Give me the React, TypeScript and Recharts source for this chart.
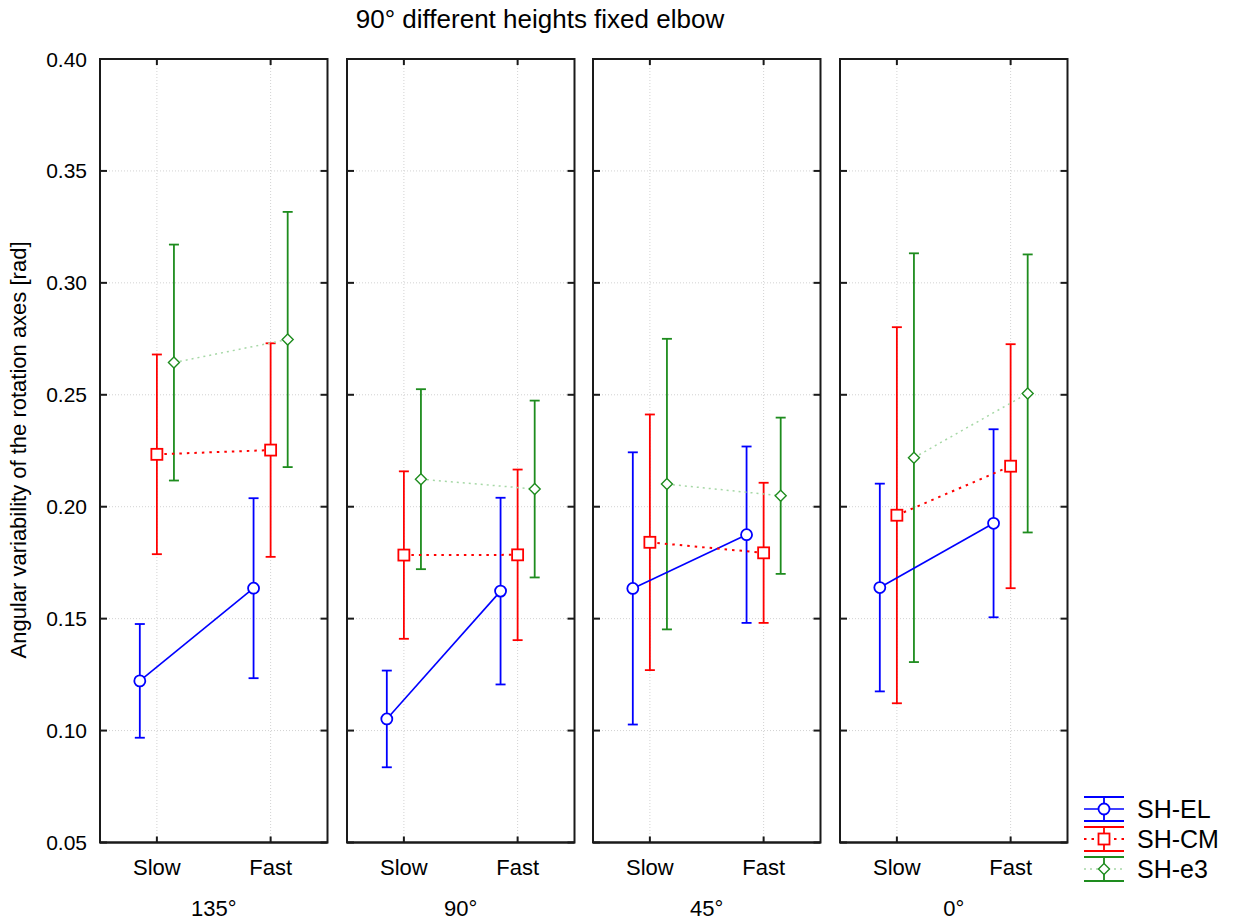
import { ScatterChart, Scatter, XAxis, YAxis, CartesianGrid, ErrorBar, ReferenceArea } from 'recharts';

const speeds = ['Slow', 'Fast'];
const angles = ['135°', '90°', '45°', '0°'];
const yTicks = [0.05, 0.1, 0.15, 0.2, 0.25, 0.3, 0.35, 0.4];

// means and half-widths of the error bars, per angle: [Slow, Fast]
const elMean = [[0.1222, 0.1636], [0.1052, 0.1623], [0.1635, 0.1875], [0.1639, 0.1926]];
const elErr = [[0.0254, 0.0402], [0.0216, 0.0417], [0.0608, 0.0394], [0.0464, 0.042]];
const cmMean = [[0.2234, 0.2253], [0.1784, 0.1785], [0.1841, 0.1794], [0.1962, 0.2181]];
const cmErr = [[0.0446, 0.0477], [0.0374, 0.0381], [0.0571, 0.0313], [0.084, 0.0545]];
const e3Mean = [[0.2644, 0.2747], [0.2123, 0.2079], [0.2101, 0.2049], [0.2219, 0.2506]];
const e3Err = [[0.0527, 0.057], [0.0402, 0.0395], [0.0649, 0.0349], [0.0913, 0.0621]];

type Shape = 'circle' | 'square' | 'diamond';

const series = [
  { name: 'SH-EL', mean: elMean, err: elErr, color: '#0000ff', lineColor: '#0000ff', dash: undefined, lineWidth: 1.6, dodge: -0.3, shape: 'circle' as Shape },
  { name: 'SH-CM', mean: cmMean, err: cmErr, color: '#ff0000', lineColor: '#ff0000', dash: '2.5 5', lineWidth: 2, dodge: 0, shape: 'square' as Shape },
  { name: 'SH-e3', mean: e3Mean, err: e3Err, color: '#1e8c1e', lineColor: '#a6d8a6', dash: '2 4', lineWidth: 1.5, dodge: 0.3, shape: 'diamond' as Shape },
];

const FONT = '"Liberation Sans", Arial, sans-serif';
const PLOT_TOP = 58.5;
const PLOT_H = 783.5;
const PLOT_W = 227.5;
const PANEL_STEP = 246.7;
const FIRST_LEFT = 100;
const AXIS_H = 82;
const PAD_TOP = 20;
const PAD_RIGHT = 12;
const INK = '#1a1a1a';
const TICK = 7;

function Marker({ cx, cy, shape, color }: { cx: number; cy: number; shape: Shape; color: string }) {
  if (shape === 'circle') return <circle cx={cx} cy={cy} r={5.5} fill="#fff" stroke={color} strokeWidth={1.8} />;
  if (shape === 'square')
    return <rect x={cx - 5.5} y={cy - 5.5} width={11} height={11} fill="#fff" stroke={color} strokeWidth={1.8} />;
  return (
    <polygon
      points={`${cx},${cy - 5.5} ${cx + 5.5},${cy} ${cx},${cy + 5.5} ${cx - 5.5},${cy}`}
      fill="#fff"
      stroke={color}
      strokeWidth={1.4}
    />
  );
}

function panelData(s: (typeof series)[number], i: number) {
  return speeds.map((_, j) => ({ x: 1 + 2 * j + s.dodge, y: s.mean[i][j], err: s.err[i][j] }));
}

function Panel({ index }: { index: number }) {
  const first = index === 0;
  // a zero-width axis is not drawn, so the inner panels keep a 1px one
  const leftW = first ? FIRST_LEFT : 1;
  const left = first ? 0 : FIRST_LEFT + index * PANEL_STEP - 1;
  const frame = { stroke: INK, strokeWidth: 2 };

  return (
    <div style={{ position: 'absolute', left, top: PLOT_TOP - PAD_TOP }}>
      <ScatterChart
        width={leftW + PLOT_W + PAD_RIGHT}
        height={PAD_TOP + PLOT_H + AXIS_H}
        margin={{ top: PAD_TOP, right: PAD_RIGHT, bottom: 0, left: 0 }}
      >
        <CartesianGrid stroke="#d2d2d2" strokeDasharray="1 2" />
        <ReferenceArea x1={0} x2={4} y1={0.05} y2={0.4} fill="none" stroke={INK} strokeWidth={2} />
        <XAxis
          type="number"
          dataKey="x"
          domain={[0, 4]}
          ticks={[1, 3]}
          height={AXIS_H}
          axisLine={frame}
          tickLine={false}
          tickSize={0}
          tickMargin={0}
          tick={(p: any) => {
            const x = Number(p.x);
            const y = Number(p.y);
            return (
              <g>
                <line x1={x} y1={y} x2={x} y2={y - TICK + 1} stroke={INK} strokeWidth={2} />
                <line x1={x} y1={y - PLOT_H} x2={x} y2={y - PLOT_H + TICK - 1} stroke={INK} strokeWidth={2} />
                <text x={x} y={y + 25} textAnchor="middle" dominantBaseline="central" fontSize={22} fontFamily={FONT} fill="#000">
                  {speeds[(p.payload.value - 1) / 2]}
                </text>
              </g>
            );
          }}
          label={{
            content: (p: any) => (
              <text
                x={p.viewBox.x + p.viewBox.width / 2}
                y={p.viewBox.y + 66}
                textAnchor="middle"
                dominantBaseline="central"
                fontSize={22}
                fontFamily={FONT}
                fill="#000"
              >
                {angles[index]}
              </text>
            ),
          }}
        />
        <YAxis
          type="number"
          dataKey="y"
          domain={[0.05, 0.4]}
          ticks={yTicks}
          width={leftW}
          axisLine={frame}
          tickLine={false}
          tickSize={0}
          tickMargin={0}
          allowDataOverflow
          tick={(p: any) => {
            const x = Number(p.x);
            const y = Number(p.y);
            return (
              <g>
                <line x1={x} y1={y} x2={x + TICK} y2={y} stroke={INK} strokeWidth={2} />
                <line x1={x + PLOT_W} y1={y} x2={x + PLOT_W - TICK} y2={y} stroke={INK} strokeWidth={2} />
                {first && (
                  <text x={x - 13} y={y} textAnchor="end" dominantBaseline="central" fontSize={21} fontFamily={FONT} fill="#000">
                    {p.payload.value.toFixed(2)}
                  </text>
                )}
              </g>
            );
          }}
        />
        {series.map((s) => (
          <Scatter
            key={s.name}
            name={s.name}
            data={panelData(s, index)}
            line={{ stroke: s.lineColor, strokeWidth: s.lineWidth, strokeDasharray: s.dash }}
            lineType="joint"
            shape={(p: any) => <Marker cx={p.cx} cy={p.cy} shape={s.shape} color={s.color} />}
            isAnimationActive={false}
          >
            <ErrorBar dataKey="err" direction="y" width={5} stroke={s.color} strokeWidth={1.8} isAnimationActive={false} />
          </Scatter>
        ))}
      </ScatterChart>
    </div>
  );
}

function LegendBox() {
  return (
    <svg width={150} height={100} style={{ position: 'absolute', left: 1082, top: 792 }}>
      {series.map((s, k) => {
        const cy = 17 + k * 30;
        const x0 = 2;
        const x1 = 42;
        const xm = 22;
        return (
          <g key={s.name}>
            <line x1={x0} y1={cy - 12} x2={x1} y2={cy - 12} stroke={s.color} strokeWidth={2} />
            <line x1={x0} y1={cy + 12} x2={x1} y2={cy + 12} stroke={s.color} strokeWidth={2} />
            <line x1={xm} y1={cy - 12} x2={xm} y2={cy + 12} stroke={s.color} strokeWidth={1.8} />
            <line x1={x0} y1={cy} x2={x1} y2={cy} stroke={s.lineColor} strokeWidth={s.lineWidth} strokeDasharray={s.dash} />
            <Marker cx={xm} cy={cy} shape={s.shape} color={s.color} />
            <text x={55} y={cy} dominantBaseline="central" fontSize={25} fontFamily={FONT} fill="#000">
              {s.name}
            </text>
          </g>
        );
      })}
    </svg>
  );
}

export default function App() {
  return (
    <div
      style={{
        position: 'absolute',
        left: 0,
        top: 0,
        width: 1234,
        height: 924,
        background: '#fff',
        fontFamily: FONT,
        overflow: 'hidden',
      }}
    >
      <div style={{ position: 'absolute', left: 0, width: 1080, top: 4, textAlign: 'center', fontSize: 26, color: '#000' }}>
        90° different heights fixed elbow
      </div>
      <div
        style={{
          position: 'absolute',
          left: 19,
          top: 450,
          transform: 'translate(-50%, -50%) rotate(-90deg)',
          whiteSpace: 'nowrap',
          fontSize: 22,
          color: '#000',
        }}
      >
        Angular variability of the rotation axes [rad]
      </div>
      {angles.map((_, i) => (
        <Panel key={i} index={i} />
      ))}
      <LegendBox />
    </div>
  );
}
